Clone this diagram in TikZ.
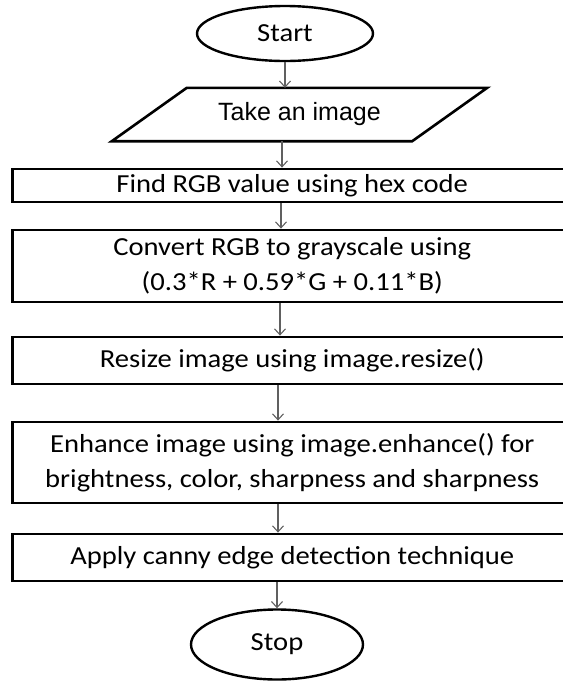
\documentclass[tikz,border=0pt]{standalone}
\usepackage{fontspec}
\setmainfont{Carlito}[FakeStretch=1.1]
\newfontfamily\takefont{Liberation Sans}
\usetikzlibrary{shapes.geometric,arrows.meta}
\definecolor{arrowgray}{HTML}{606060}

\begin{document}
\begin{tikzpicture}[x=1pt,y=-1pt,
  txt/.style={font=\fontsize{26}{35}\selectfont},
  box/.style={txt, draw=black, line width=2.8pt, minimum width=559.5pt,
    inner sep=0pt, align=center},
  term/.style={txt, ellipse, draw=black, line width=2.4pt, inner sep=0pt},
  flow/.style={draw=arrowgray, line width=1.1pt,
    -{Straight Barb[length=6pt,width=11pt]}}
]
\useasboundingbox (0,0) rectangle (563,681);
\clip (0,0) rectangle (563,681);

% terminals
\node[term, minimum width=176pt, minimum height=55pt] (start) at (285,33.5) {Start};
\node[term, minimum width=172pt, minimum height=70pt] (stop) at (277,644.5) {Stop};

% input: parallelogram around a plain text node
\node[minimum width=375pt, minimum height=53pt, inner sep=0pt,
  font=\takefont\fontsize{25}{30}\selectfont] (take) at (299.5,114.5) {Take an image};
\draw[line width=2.6pt, line join=miter]
  ([xshift=75pt]take.north west) -- (take.north east)
  -- ([xshift=-75pt]take.south east) -- (take.south west) -- cycle;

% process steps
\node[box, minimum height=33pt] (find) at (292.25,185.5) {Find RGB value using hex code};
\node[box, minimum height=72pt] (conv) at (292.25,266) {Convert RGB to grayscale using\\(0.3*R + 0.59*G + 0.11*B)};
\node[box, minimum height=47pt] (resize) at (292.25,360.5) {Resize image using image.resize()};
\node[box, minimum height=81pt] (enh) at (292.25,462.5) {Enhance image using image.enhance() for\\brightness, color, sharpness and sharpness};
\node[box, minimum height=47pt] (canny) at (292.25,557.5) {Apply canny edge detection technique};

% connector columns
\coordinate (c1) at (285,0);
\coordinate (c2) at (282,0);
\coordinate (c3) at (281,0);
\coordinate (c4) at (280,0);
\coordinate (c5) at (278,0);
\coordinate (c6) at (277,0);

\draw[flow] (start.south -| c1) -- (take.north -| c1);
\draw[flow] (take.south -| c2) -- (find.north -| c2);
\draw[flow] (find.south -| c3) -- (conv.north -| c3);
\draw[flow] (conv.south -| c4) -- (resize.north -| c4);
\draw[flow] (resize.south -| c5) -- (enh.north -| c5);
\draw[flow] (enh.south -| c5) -- (canny.north -| c5);
\draw[flow] (canny.south -| c6) -- (stop.north);
\end{tikzpicture}
\end{document}
